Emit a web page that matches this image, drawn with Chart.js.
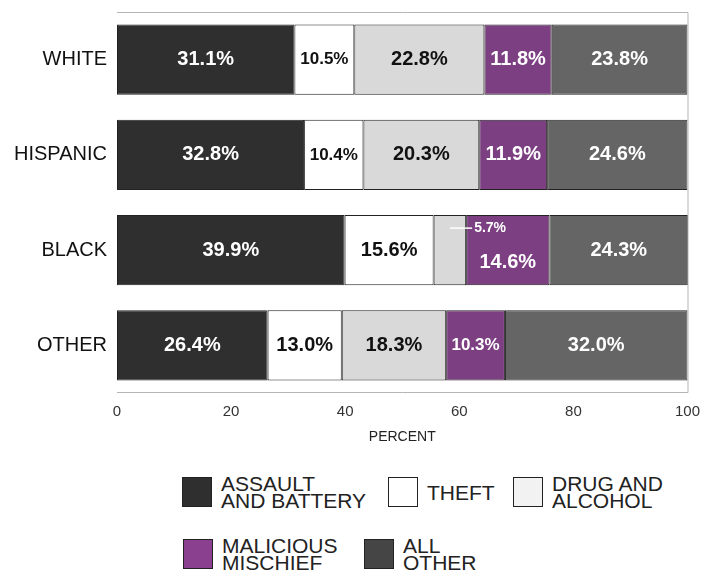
<!DOCTYPE html>
<html>
<head>
<meta charset="utf-8">
<script src="https://cdn.jsdelivr.net/npm/chart.js@4/dist/chart.umd.min.js"></script>
<style>
  html, body { margin: 0; padding: 0; background: #fff; }
  #wrap { position: relative; width: 710px; height: 571px; overflow: hidden; font-family: "Liberation Sans", Arial, sans-serif; }
  #box { position: absolute; left: 0; top: 0; width: 710px; height: 455px; }
  .lg { position: absolute; width: 30px; height: 30px; box-sizing: border-box; border: 1.5px solid #222; }
  .lg .tx { position: absolute; left: 38px; top: 50%; transform: translateY(-50%); white-space: nowrap; color: #222; font-size: 21px; line-height: 17px; }
</style>
</head>
<body>
<div id="wrap">
  <div id="box"><canvas id="c"></canvas></div>
</div>
<script>
// categories and series (percent)
const groups = ['WHITE', 'HISPANIC', 'BLACK', 'OTHER'];
const seriesNames = ['ASSAULT AND BATTERY', 'THEFT', 'DRUG AND ALCOHOL', 'MALICIOUS MISCHIEF', 'ALL OTHER'];
const assault = [31.1, 32.8, 39.9, 26.4];
const theft = [10.5, 10.4, 15.6, 13.0];
const drugAlcohol = [22.8, 20.3, 5.7, 18.3];
const mischief = [11.8, 11.9, 14.6, 10.3];
const allOther = [23.8, 24.6, 24.3, 32.0];
const xTicks = [0, 20, 40, 60, 80, 100];

const fills = ['#2f2f2f', '#ffffff', '#d9d9d9', '#7c3f82', '#656565'];
const swatchFills = ['#2f2f2f', '#ffffff', '#f2f2f2', '#8a3f8f', '#454545'];
const inkColors = ['#fff', '#111', '#111', '#fff', '#fff'];
const legendLines = [['ASSAULT', 'AND BATTERY'], ['THEFT'], ['DRUG AND', 'ALCOHOL'], ['MALICIOUS', 'MISCHIEF'], ['ALL', 'OTHER']];
const legendSlots = [[182, 477], [388, 477], [513, 477], [183, 539], [364, 539]];

const values = [assault, theft, drugAlcohol, mischief, allOther];
const FONT = '"Liberation Sans", Arial, sans-serif';

const segLabels = {
  id: 'segLabels',
  afterDatasetsDraw(chart) {
    const ctx = chart.ctx;
    ctx.save();
    ctx.textBaseline = 'middle';
    groups.forEach((g, i) => {
      let shift = 0;
      chart.data.datasets.forEach((ds, d) => {
        const bar = chart.getDatasetMeta(d).data[i];
        const txt = ds.data[i].toFixed(1) + '%';
        const w = Math.abs(bar.x - bar.base);
        const cx = (bar.x + bar.base) / 2;
        ctx.fillStyle = inkColors[d];
        ctx.font = 'bold 20px ' + FONT;
        if (ctx.measureText(txt).width + 8 > w) ctx.font = 'bold 17px ' + FONT;
        if (ctx.measureText(txt).width + 4 > w) {
          // too narrow: call out to the right, near the top of the bar
          const y = bar.y - bar.height / 2 + 13;
          ctx.font = 'bold 14px ' + FONT;
          ctx.strokeStyle = '#fff';
          ctx.lineWidth = 1.5;
          ctx.beginPath();
          ctx.moveTo(cx, y);
          ctx.lineTo(bar.x + 6, y);
          ctx.stroke();
          ctx.fillStyle = '#fff';
          ctx.textAlign = 'left';
          ctx.fillText(txt, bar.x + 8, y);
          shift = 12;
          return;
        }
        ctx.textAlign = 'center';
        ctx.fillText(txt, cx, bar.y + shift);
        shift = 0;
      });
    });
    ctx.restore();
  }
};

const frame = {
  id: 'frame',
  beforeDatasetsDraw(chart) {
    const a = chart.chartArea, ctx = chart.ctx;
    ctx.save();
    ctx.strokeStyle = '#b5b5b5';
    ctx.lineWidth = 1;
    ctx.beginPath();
    ctx.moveTo(a.left, a.top + 0.5);
    ctx.lineTo(a.right + 0.5, a.top + 0.5);
    ctx.lineTo(a.right + 0.5, a.bottom - 0.5);
    ctx.lineTo(a.left, a.bottom - 0.5);
    ctx.stroke();
    ctx.restore();
  }
};

new Chart(document.getElementById('c'), {
  type: 'bar',
  data: {
    labels: groups,
    datasets: seriesNames.map((name, d) => ({
      label: name,
      data: values[d],
      backgroundColor: fills[d],
      borderColor: '#222',
      borderWidth: 1,
      borderSkipped: false,
      barPercentage: 0.735,
      categoryPercentage: 1
    }))
  },
  options: {
    indexAxis: 'y',
    responsive: true,
    maintainAspectRatio: false,
    animation: false,
    layout: { padding: { top: 12, right: 22, left: 0, bottom: 0 } },
    plugins: { legend: { display: false }, tooltip: { enabled: false } },
    scales: {
      x: {
        stacked: true,
        min: 0,
        max: 100,
        afterBuildTicks: s => { s.ticks = xTicks.map(v => ({ value: v })); },
        grid: { display: false, drawTicks: false },
        border: { display: false },
        ticks: { color: '#333', font: { size: 15, family: FONT }, padding: 10, maxRotation: 0 },
        title: { display: true, text: 'PERCENT', color: '#222', font: { size: 14, family: FONT }, padding: { top: 0, bottom: 9 } },
        afterFit: s => { s.height = 62; }
      },
      y: {
        stacked: true,
        grid: { display: false, drawTicks: false },
        border: { display: false },
        ticks: { color: '#111', font: { size: 20, family: FONT }, padding: 10 },
        afterFit: s => { s.width = 117; s.paddingTop = 0; s.paddingBottom = 0; }
      }
    }
  },
  plugins: [frame, segLabels]
});

// legend built from the series
const wrap = document.getElementById('wrap');
seriesNames.forEach((name, d) => {
  const it = document.createElement('div');
  it.className = 'lg';
  it.style.left = legendSlots[d][0] + 'px';
  it.style.top = legendSlots[d][1] + 'px';
  it.style.background = swatchFills[d];
  it.innerHTML = `<div class="tx">${legendLines[d].join('<br>')}</div>`;
  wrap.appendChild(it);
});
</script>
</body>
</html>
